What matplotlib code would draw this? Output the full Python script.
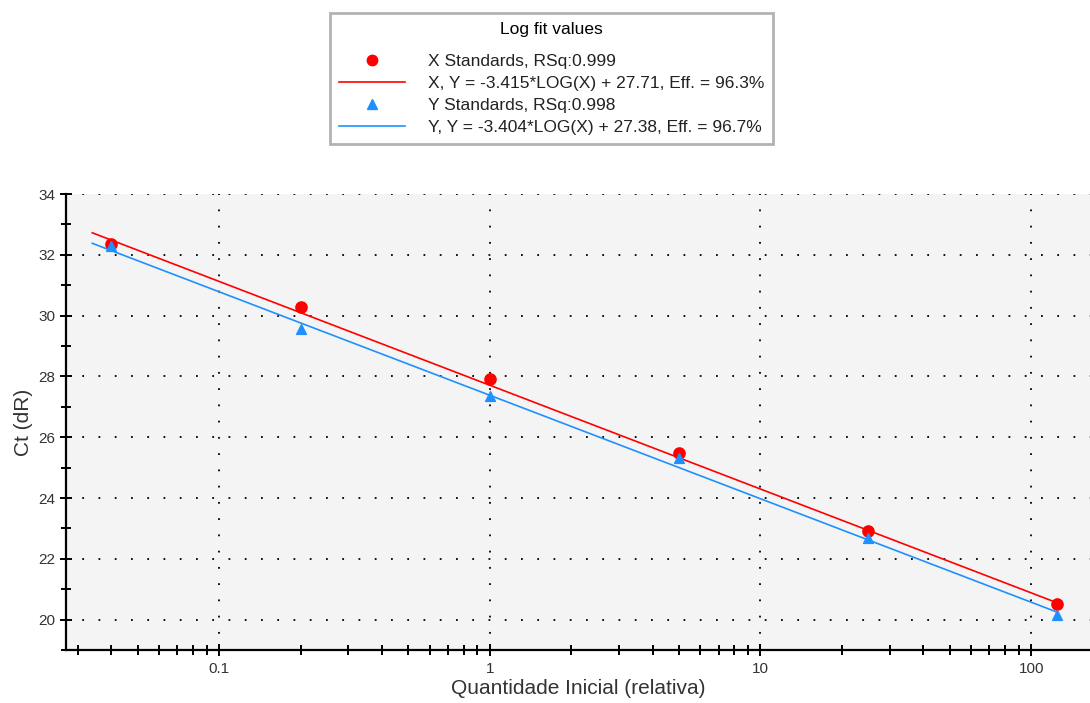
import numpy as np
import matplotlib.pyplot as plt
from matplotlib.lines import Line2D
from matplotlib.ticker import FixedLocator, NullFormatter

plt.rcParams['font.family'] = ['Liberation Sans', 'DejaVu Sans']

# standards (relative initial quantity) and measured Ct
qty = [0.04, 0.2, 1, 5, 25, 125]
ct_x = [32.36, 30.27, 27.92, 25.48, 22.92, 20.52]
ct_y = [32.30, 29.56, 27.36, 25.32, 22.68, 20.15]

# log fit coefficients
fit_x = (-3.415, 27.71)
fit_y = (-3.404, 27.38)
fit_range = [0.034, 125]

labels = ['X Standards, RSq:0.999',
          'X, Y = -3.415*LOG(X) + 27.71, Eff. = 96.3%',
          'Y Standards, RSq:0.998',
          'Y, Y = -3.404*LOG(X) + 27.38, Eff. = 96.7%']

red = '#ff0000'
blue = '#1e90ff'

fig = plt.figure(figsize=(10.9, 7.03), dpi=100)
ax = fig.add_axes([0.0606, 0.0754, 0.9394, 0.6486])
ax.set_facecolor('#f4f4f4')

xs = np.array(fit_range)
ax.plot(xs, fit_x[0] * np.log10(xs) + fit_x[1], color=red, lw=1.2, zorder=2)
ax.plot(xs, fit_y[0] * np.log10(xs) + fit_y[1], color=blue, lw=1.2, zorder=2)
ax.scatter(qty, ct_x, marker='o', s=65, color=red, zorder=3)
ax.scatter(qty, ct_y, marker='^', s=50, color=blue, zorder=4)

ax.set_xscale('log')
ax.set_xlim(0.0272, 165)
ax.set_ylim(19, 34)
ax.set_xticks([0.1, 1, 10, 100])
ax.set_xticklabels(['0.1', '1', '10', '100'])
ax.xaxis.set_minor_locator(FixedLocator(
    [m * 10.0**e for e in range(-2, 3) for m in range(2, 10)]))
ax.xaxis.set_minor_formatter(NullFormatter())
ax.set_yticks(range(20, 35, 2))
ax.set_yticks(range(19, 35, 2), minor=True)

ax.grid(True, which='major', color='black', linestyle=(0, (1, 8)), lw=1.3)
for s in ['top', 'right']:
    ax.spines[s].set_visible(False)
for s in ['left', 'bottom']:
    ax.spines[s].set_linewidth(1.6)
ax.tick_params(which='both', direction='inout', width=1.4, labelsize=11,
               labelcolor='#333333')
ax.tick_params(which='major', length=8)
ax.tick_params(which='minor', length=7)
ax.tick_params(axis='x', pad=5)

ax.set_xlabel('Quantidade Inicial (relativa)', fontsize=15, color='#333333',
              labelpad=2)
ax.set_ylabel('Ct (dR)', fontsize=15, color='#333333')

handles = [Line2D([], [], ls='none', marker='o', color=red, ms=7.5),
           Line2D([], [], color=red, lw=1.2),
           Line2D([], [], ls='none', marker='^', color=blue, ms=7),
           Line2D([], [], color=blue, lw=1.2)]
leg = fig.legend(handles, labels, title='Log fit values', loc='center',
                 bbox_to_anchor=(551.5 / 1090, 1 - 78.5 / 703),
                 fontsize=12.5, title_fontsize=12.5, frameon=True,
                 fancybox=False, edgecolor='#a0a0a0', handlelength=3.8,
                 handletextpad=1.3, labelspacing=0.4, borderpad=0.5)
leg.get_frame().set_linewidth(2)
leg._legend_box.sep = 12
for t in leg.get_texts():
    t.set_color('#222222')

fig.savefig('out.png', dpi=100)
